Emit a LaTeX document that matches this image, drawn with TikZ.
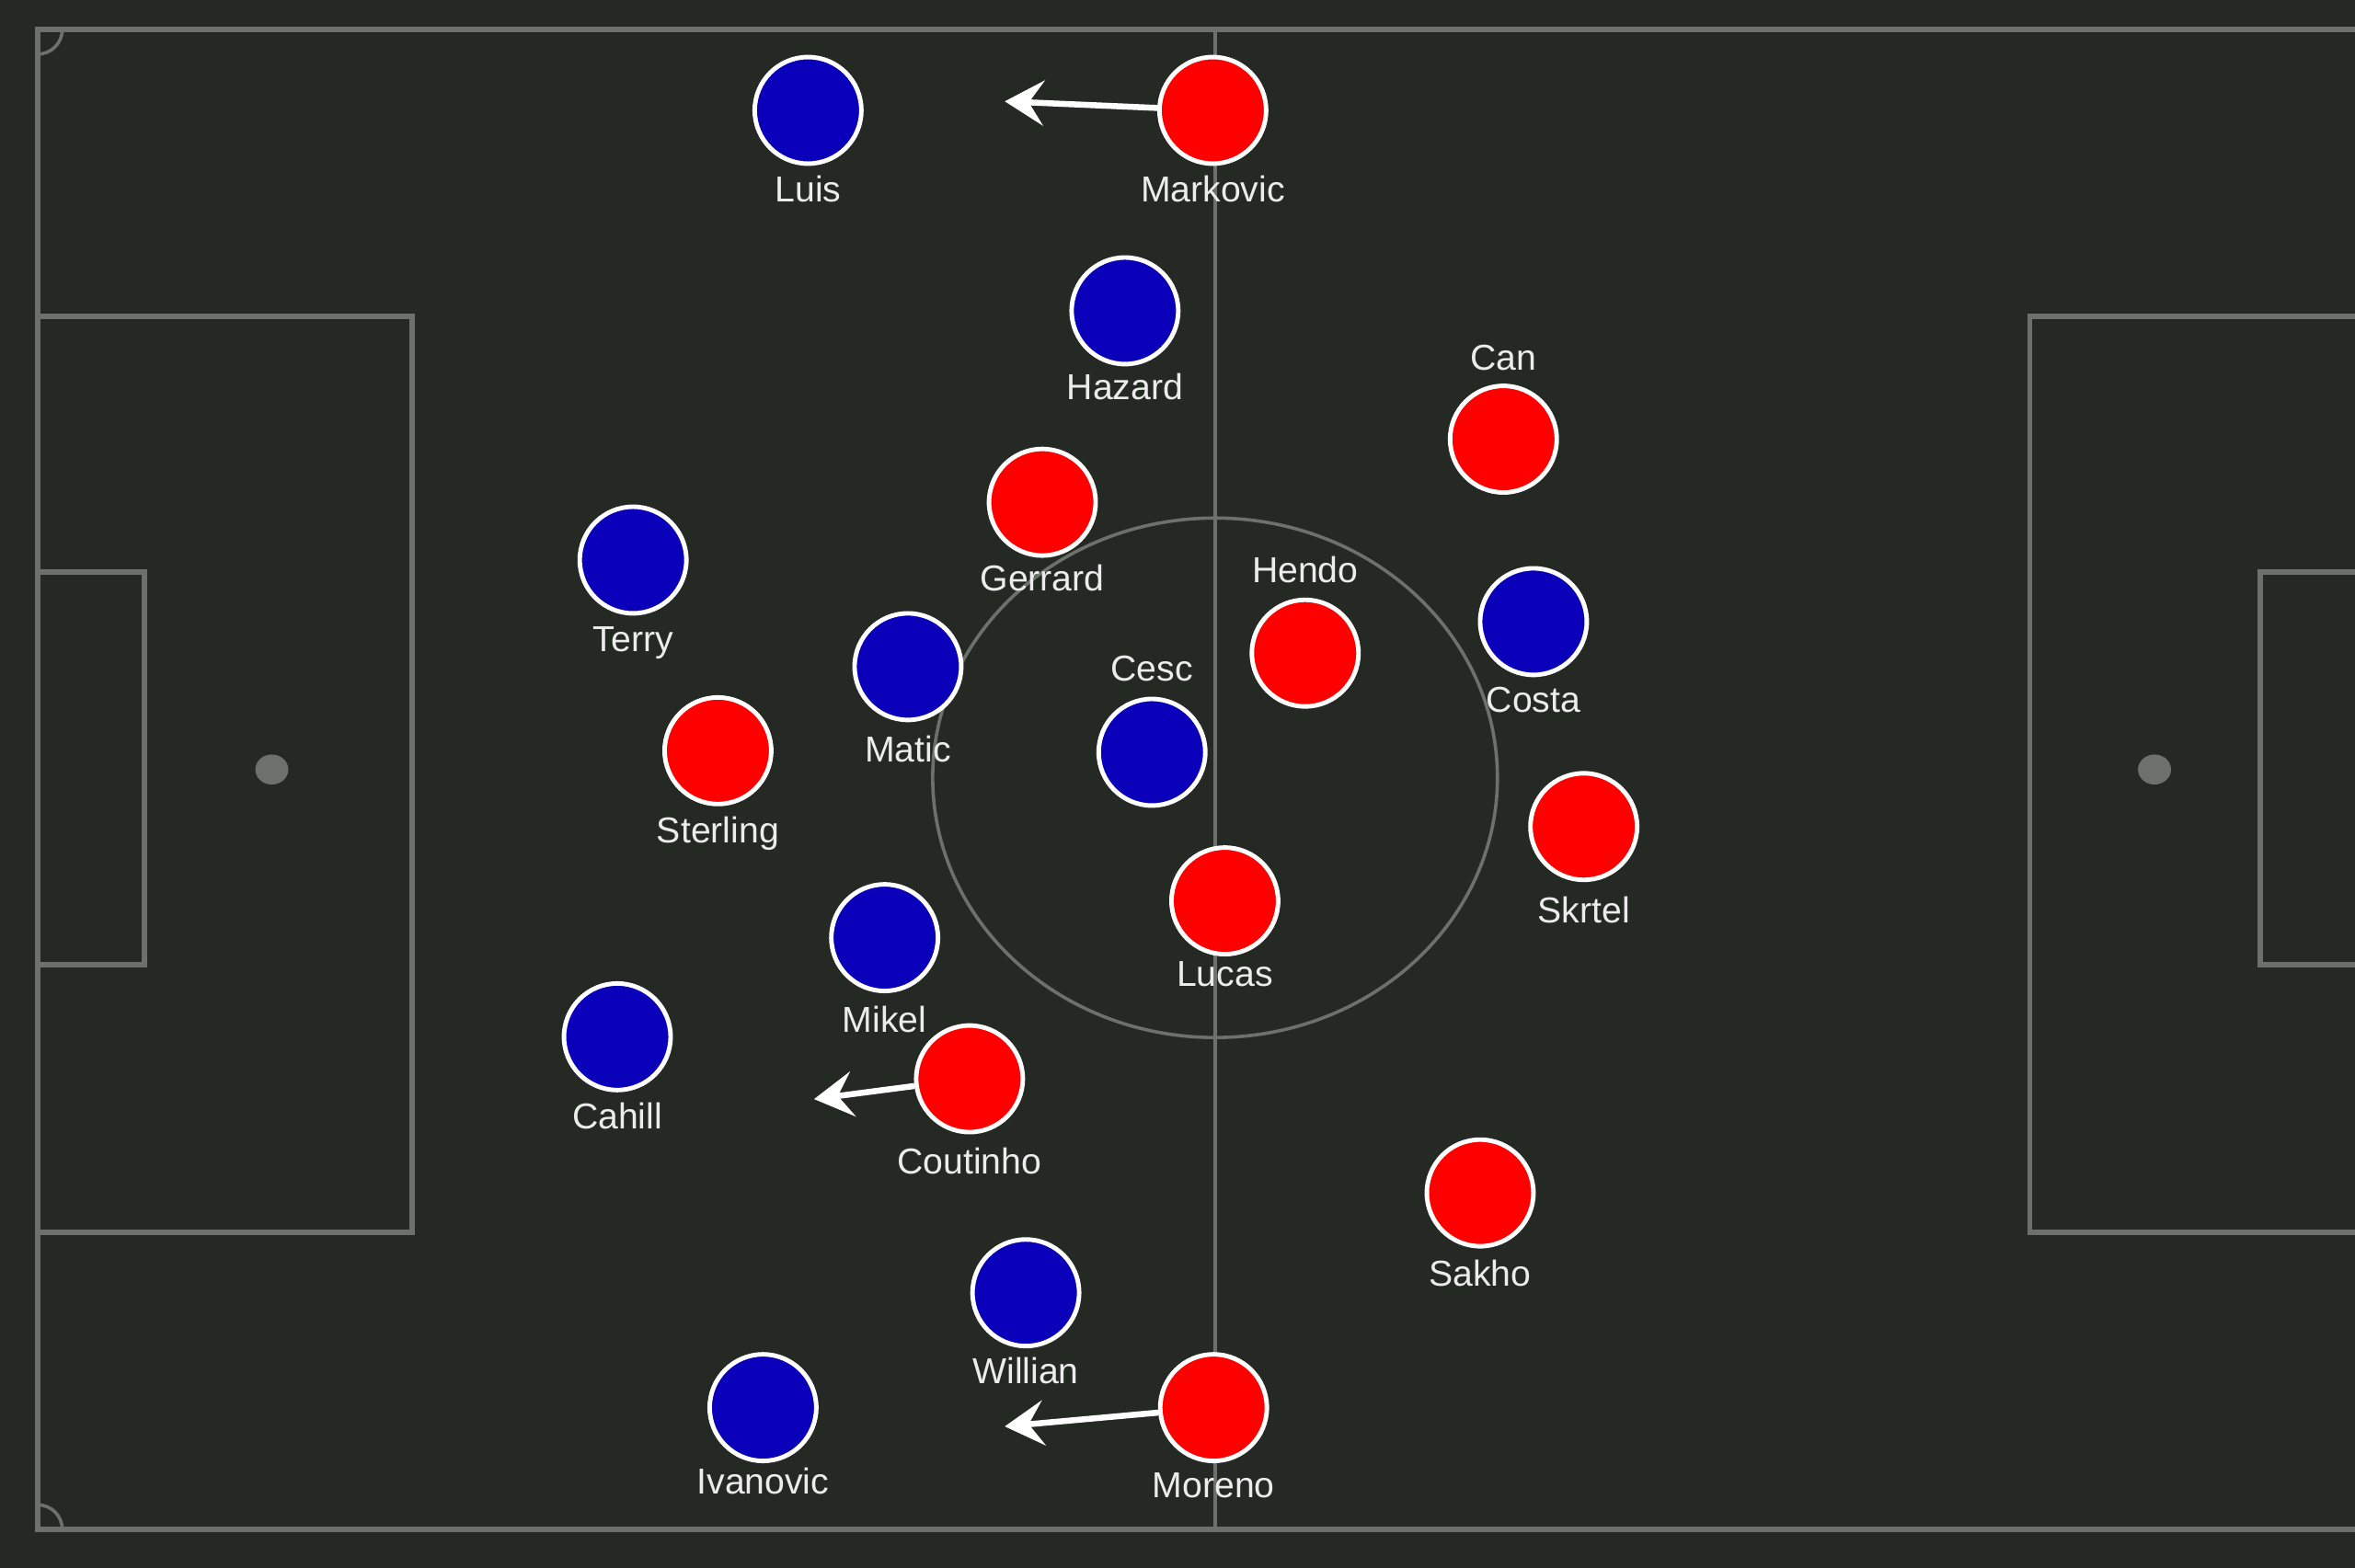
\documentclass[tikz,border=0pt]{standalone}
\usepackage{fontspec}
\setmainfont{Liberation Sans}
\usepackage{tikz}
\usetikzlibrary{arrows.meta,positioning}
\definecolor{turf}{RGB}{37,41,36}
\definecolor{chalk}{RGB}{108,113,107}
\definecolor{chelsea}{RGB}{10,0,185}
\definecolor{reds}{RGB}{255,0,0}
\definecolor{namecol}{RGB}{236,236,236}

\begin{document}
\begin{tikzpicture}[x=1pt,y=-1pt]
\tikzstyle{pitchline}=[draw=chalk,line width=3.5pt]
\tikzstyle{thinline}=[draw=chalk,line width=2.2pt]
\tikzstyle{player}=[circle,draw=white,line width=3pt,minimum size=71pt,inner sep=0pt]
\tikzstyle{cfc}=[player,fill=chelsea]
\tikzstyle{lfc}=[player,fill=reds]
\tikzstyle{tag}=[text=namecol,font=\fontsize{24}{28}\selectfont,inner sep=0pt,text height=17pt,text depth=0pt]
\tikzstyle{run}=[draw=white,line width=4pt,-{Stealth[length=26pt,width=30pt,inset=10pt]}]

\useasboundingbox (0,0) rectangle (1568,1044);
\fill[turf] (0,0) rectangle (1568,1044);

% pitch
\begin{scope}
\clip (0,0) rectangle (1568,1044);
\draw[pitchline] (25,19.6) rectangle (1593,1018.7);
\draw[thinline] (809,19.6) -- (809,1018.7);
\draw[thinline] (809,518) ellipse [x radius=188,y radius=173];
\draw[pitchline] (25,210.8) rectangle (274.3,820.8);
\draw[pitchline] (25,381) rectangle (96,642.5);
\draw[pitchline] (1351.5,210.8) rectangle (1593,820.8);
\draw[pitchline] (1505,381) rectangle (1593,642.5);
\fill[chalk] (181,512.5) ellipse [x radius=11,y radius=10];
\fill[chalk] (1434.5,512.5) ellipse [x radius=11,y radius=10];
\draw[thinline] (41.5,19.6) arc[start angle=0,end angle=90,radius=16.5];
\draw[thinline] (25,1002.2) arc[start angle=-90,end angle=0,radius=16.5];
\draw[thinline] (1593,36.1) arc[start angle=90,end angle=180,radius=16.5];
\draw[thinline] (1576.5,1018.7) arc[start angle=180,end angle=270,radius=16.5];
\end{scope}

% chelsea
\foreach \id/\px/\py/\nm/\side/\gap in {
  luis/538/73.5/Luis/below/7,
  hazard/749/207/Hazard/below/5,
  terry/421.5/373/Terry/below/7,
  matic/604.5/444/Matic/below/9,
  cesc/767/501/Cesc/above/10,
  costa/1021/414/Costa/below/6,
  mikel/589/624.5/Mikel/below/9,
  cahill/411/690.5/Cahill/below/7,
  willian/683/861/Willian/below/6,
  ivanovic/508/937.5/Ivanovic/below/3}
{
  \node[cfc] (\id) at (\px,\py) {};
  \node[tag,\side=\gap pt of \id] (\id-name) {\nm};
}

% liverpool
\foreach \id/\px/\py/\nm/\side/\gap in {
  markovic/807.5/73.5/Markovic/below/7,
  can/1001/292.5/Can/above/9,
  gerrard/694/334.5/Gerrard/below/5,
  hendo/869/435/Hendo/above/10,
  sterling/478/500/Sterling/below/7,
  skrtel/1054.5/550.5/Skrtel/below/10,
  lucas/815.5/600/Lucas/below/3,
  coutinho/645.5/718.5/Coutinho/below/9,
  sakho/985.5/794.5/Sakho/below/8,
  moreno/808/937.5/Moreno/below/6}
{
  \node[lfc] (\id) at (\px,\py) {};
  \node[tag,\side=\gap pt of \id] (\id-name) {\nm};
}

% runs
\coordinate (markovic-to) at (669,67.5);
\coordinate (coutinho-to) at (542,732);
\coordinate (moreno-to) at (669,950);
\draw[run] (markovic) -- (markovic-to);
\draw[run] (coutinho) -- (coutinho-to);
\draw[run] (moreno) -- (moreno-to);
\end{tikzpicture}
\end{document}
